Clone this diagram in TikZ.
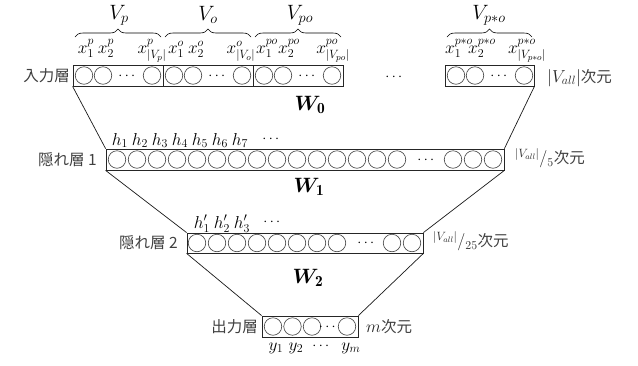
\documentclass[tikz,border=0pt]{standalone}
\usepackage{amsmath}
\usepackage{bm}
\usepackage{fontspec}
\newfontfamily\jp{Noto Sans CJK JP}
\usetikzlibrary{decorations.pathreplacing}
\tikzset{
  layerbox/.style={draw=black!85, line width=0.8pt, inner sep=0pt, minimum height=21pt},
  unit/.style={circle, draw=black!75, line width=0.6pt, minimum size=17.5pt, inner sep=0pt},
  jpl/.style={font=\jp\fontsize{15.5}{15.5}\selectfont, text=black!75, inner sep=0pt},
  dimlabel/.style={font=\fontsize{17}{17}\selectfont, text=black!85, inner sep=0pt, anchor=west},
  grp/.style={font=\fontsize{22}{22}\selectfont, inner sep=0pt},
  xl/.style={font=\fontsize{17.5}{17.5}\selectfont, inner sep=0pt, anchor=base},
  wl/.style={font=\fontsize{22}{22}\selectfont, inner sep=0pt},
  dts/.style={font=\fontsize{14}{14}\selectfont, inner sep=0pt},
  brc/.style={decorate, decoration={brace, amplitude=8pt}, line width=0.6pt},
  conn/.style={line width=0.7pt, black!90}
}
\newcommand{\jpdim}{\jp\fontsize{15.5}{15.5}\selectfont\color{black!75}次元}
\begin{document}
\begin{tikzpicture}[x=1pt,y=-1pt]
\useasboundingbox (0,0) rectangle (638,365);
% input layer groups
\node[layerbox, minimum width=90pt] (g1) at (118,75.5) {};
\node[layerbox, minimum width=90pt] (g2) at (208,75.5) {};
\node[layerbox, minimum width=90pt] (g3) at (298,75.5) {};
\node[layerbox, minimum width=89pt] (g4) at (489.5,75.5) {};
\foreach \g/\x in {a/73,b/163,c/253,d/445}{
  \node[unit] (u\g1) at (\x+11,75.5) {};
  \node[unit] (u\g2) at (\x+30,75.5) {};
  \node[dts] (d\g) at (\x+55,76) {$\cdots$};
  \node[unit] (u\g3) at (\x+79,75.5) {};
}
\node[dts] (imid) at (395,77) {$\cdots$};
% braces and group labels
\coordinate (b1l) at (75,37); \coordinate (b1r) at (161,37);
\coordinate (b2l) at (165,37); \coordinate (b2r) at (251,37);
\coordinate (b3l) at (255,37); \coordinate (b3r) at (341,37);
\coordinate (b4l) at (447,37); \coordinate (b4r) at (532,37);
\draw[brc] (b1l) -- (b1r);
\draw[brc] (b2l) -- (b2r);
\draw[brc] (b3l) -- (b3r);
\draw[brc] (b4l) -- (b4r);
\node[grp] (vp) at (119,15) {$V_p$};
\node[grp] (vo) at (208,15) {$V_o$};
\node[grp] (vpo) at (300,15) {$V_{po}$};
\node[grp] (vpso) at (489,15) {$V_{p*o}$};
% x labels
\node[xl] (x1p) at (86,53) {$x_1^p$};
\node[xl] (x2p) at (106,53) {$x_2^p$};
\node[xl] (xnp) at (152,53) {$x_{|V_p|}^p$};
\node[xl] (x1o) at (176,53) {$x_1^o$};
\node[xl] (x2o) at (196,53) {$x_2^o$};
\node[xl] (xno) at (241,53) {$x_{|V_o|}^o$};
\node[xl] (x1po) at (267,53) {$x_1^{po}$};
\node[xl] (x2po) at (289,53) {$x_2^{po}$};
\node[xl] (xnpo) at (333,53) {$x_{|V_{po}|}^{po}$};
\node[xl] (x1pso) at (459,53) {$x_1^{p*o}$};
\node[xl] (x2pso) at (482,53) {$x_2^{p*o}$};
\node[xl] (xnpso) at (527,53) {$x_{|V_{p*o}|}^{p*o}$};
\node[jpl, anchor=east] (lin) at (70,75.5) {入力層};
\node[dimlabel] (din) at (547,78) {$|V_{all}|$\jpdim};
% hidden layer 1
\node[layerbox, minimum width=398pt] (hb1) at (305,159.5) {};
\foreach \k in {0,...,14}{ \node[unit] (p\k) at (117+20*\k,159.5) {}; }
\node[dts] (dh1) at (427,160) {$\cdots$};
\foreach \k/\x in {a/453,b/473,c/493}{ \node[unit] (q\k) at (\x,159.5) {}; }
\foreach \k in {1,...,7}{ \node[xl] (h\k) at (100+20*\k,145) {$h_{\k}$}; }
\node[dts] (hd1) at (272,139) {$\cdots$};
\node[jpl, anchor=east] (lh1) at (97,160) {隠れ層 1};
\node[dimlabel] (dh1l) at (515,158) {$^{|V_{all}|}/_{5}$\jpdim};
% hidden layer 2
\node[layerbox, minimum width=236pt, minimum height=20pt] (hb2) at (305,243) {};
\foreach \k in {0,...,7}{ \node[unit] (r\k) at (197+20*\k,243) {}; }
\node[dts] (dh2) at (367,243.5) {$\cdots$};
\foreach \k/\x in {a/392,b/412}{ \node[unit] (s\k) at (\x,243) {}; }
\foreach \k in {1,2,3}{ \node[xl] (hp\k) at (182+20*\k,228) {$h'_{\k}$}; }
\node[dts] (hd2) at (273,222) {$\cdots$};
\node[jpl, anchor=east] (lh2) at (178,243) {隠れ層 2};
\node[dimlabel] (dh2l) at (433,241) {$^{|V_{all}|}/_{25}$\jpdim};
% output layer
\node[layerbox, minimum width=96pt] (ob) at (310,326.5) {};
\node[unit] (o1) at (273,326.5) {};
\node[unit] (o2) at (292.5,326.5) {};
\node[unit] (o3) at (312,326.5) {};
\node[dts] (od) at (328.5,327) {$\cdots$};
\node[unit] (o4) at (347,326.5) {};
\node[jpl, anchor=east] (lo) at (258,326.5) {出力層};
\node[dimlabel] (dol) at (366,326.5) {$m$\jpdim};
\node[xl] (y1) at (276,350) {$y_1$};
\node[xl] (y2) at (296,350) {$y_2$};
\node[dts] (yd) at (322,346) {$\cdots$};
\node[xl] (ym) at (351,350) {$y_m$};
% weights
\node[wl] (w0) at (310,105) {$\bm{W}_{\mathbf{0}}$};
\node[wl] (w1) at (309,187) {$\bm{W}_{\mathbf{1}}$};
\node[wl] (w2) at (308,278) {$\bm{W}_{\mathbf{2}}$};
% connectors
\draw[conn] (g1.south west) -- (hb1.north west);
\draw[conn] (g4.south east) -- (hb1.north east);
\draw[conn] (hb1.south west) -- (hb2.north west);
\draw[conn] (hb1.south east) -- (hb2.north east);
\draw[conn] (hb2.south west) -- (ob.north west);
\draw[conn] (hb2.south east) -- (ob.north east);
\end{tikzpicture}
\end{document}
